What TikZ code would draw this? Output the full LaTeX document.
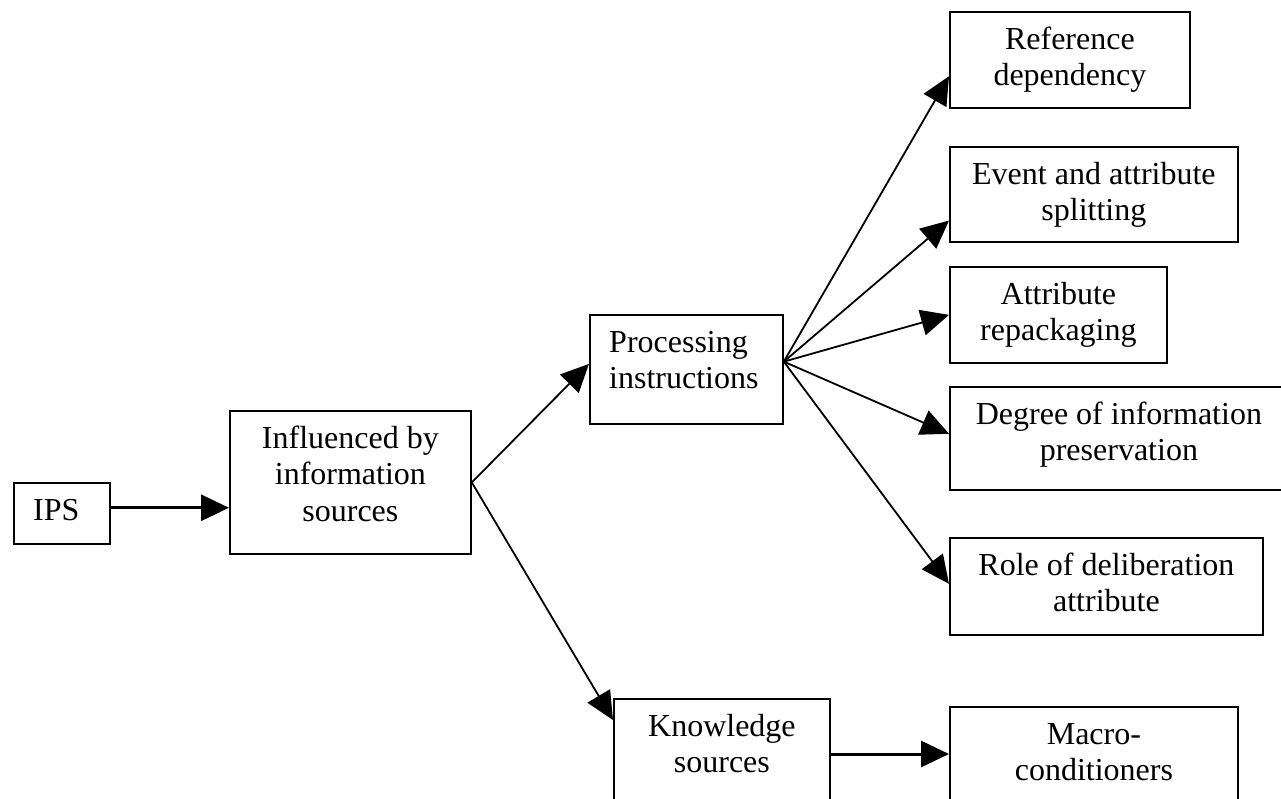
\documentclass[tikz,border=0pt]{standalone}
\usepackage{fontspec}
\setmainfont{Liberation Serif}
\usetikzlibrary{arrows.meta,calc}
\begin{document}
\begin{tikzpicture}[x=1pt,y=-1pt,
  box/.style={draw, line width=1.8pt, inner sep=0pt, anchor=north west},
  txt/.style={inner sep=0pt, font=\fontsize{32}{36.6}\selectfont},
  ctxt/.style={txt, align=center, anchor=north},
  ltxt/.style={txt, align=left, anchor=north west},
  arr/.style={line width=1.8pt, -{Triangle[length=28pt,width=26pt]}},
  harr/.style={line width=3pt, -{Triangle[length=28pt,width=26pt]}}]
\useasboundingbox (0,0) rectangle (1281,798);

% boxes
\node[box, minimum width=96pt,  minimum height=61pt]  (ips)   at (13,482)  {};
\node[box, minimum width=241pt, minimum height=143pt] (infl)  at (229,410) {};
\node[box, minimum width=193pt, minimum height=109pt] (proc)  at (589,314) {};
\node[box, minimum width=216pt, minimum height=140pt] (know)  at (613,698) {};
\node[box, minimum width=240pt, minimum height=96pt]  (ref)   at (949,11)  {};
\node[box, minimum width=288pt, minimum height=95pt]  (event) at (949,146) {};
\node[box, minimum width=217pt, minimum height=96pt]  (attr)  at (949,266) {};
\node[box, minimum width=338pt, minimum height=103pt] (deg)   at (949,386) {};
\node[box, minimum width=313pt, minimum height=97pt]  (role)  at (949,537) {};
\node[box, minimum width=288pt, minimum height=130pt] (macro) at (949,706) {};

% texts
\node[ltxt] (ipst)   at ($(ips.north west)+(20,12.4)$)  {\strut IPS};
\node[ctxt] (inflt)  at ($(infl.north)+(0,12.4)$)       {\strut Influenced by\\information\\sources};
\node[ltxt] (proct)  at ($(proc.north west)+(20,12.4)$) {\strut Processing\\instructions};
\node[ctxt] (knowt)  at ($(know.north)+(0,12.4)$)       {\strut Knowledge\\sources};
\node[ctxt] (reft)   at ($(ref.north)+(0,12.4)$)        {\strut Reference\\dependency};
\node[ctxt] (eventt) at ($(event.north)+(0,12.4)$)      {\strut Event and attribute\\splitting};
\node[ctxt] (attrt)  at ($(attr.north)+(0,12.4)$)       {\strut Attribute\\repackaging};
\node[ctxt] (degt)   at ($(deg.north)+(0,12.4)$)        {\strut Degree of information\\preservation};
\node[ctxt] (rolet)  at ($(role.north)+(0,12.4)$)       {\strut Role of deliberation\\attribute};
\node[ctxt] (macrot) at ($(macro.north)+(0,12.4)$)      {\strut Macro-\\conditioners};

% connectors
\coordinate (ipsout)  at ($(ips.north east)!0.41!(ips.south east)$);
\draw[harr] (ipsout) -- (ipsout -| infl.west);

\draw[arr] (infl.east) -- ($(proc.north west)!0.45!(proc.south west)$);
\draw[arr] (infl.east) -- ($(know.north west)+(0,22)$);

\coordinate (procout) at ($(proc.north east)!0.43!(proc.south east)$);
\draw[arr] (procout) -- ($(ref.north west)!0.667!(ref.south west)$);
\draw[arr] (procout) -- ($(event.north west)!0.77!(event.south west)$);
\draw[arr] (procout) -- (attr.west);
\draw[arr] (procout) -- ($(deg.north west)!0.456!(deg.south west)$);
\draw[arr] (procout) -- ($(role.north west)!0.474!(role.south west)$);

\coordinate (knowout) at ($(know.north east)+(0,56)$);
\draw[harr] (knowout) -- (knowout -| macro.west);
\end{tikzpicture}
\end{document}
